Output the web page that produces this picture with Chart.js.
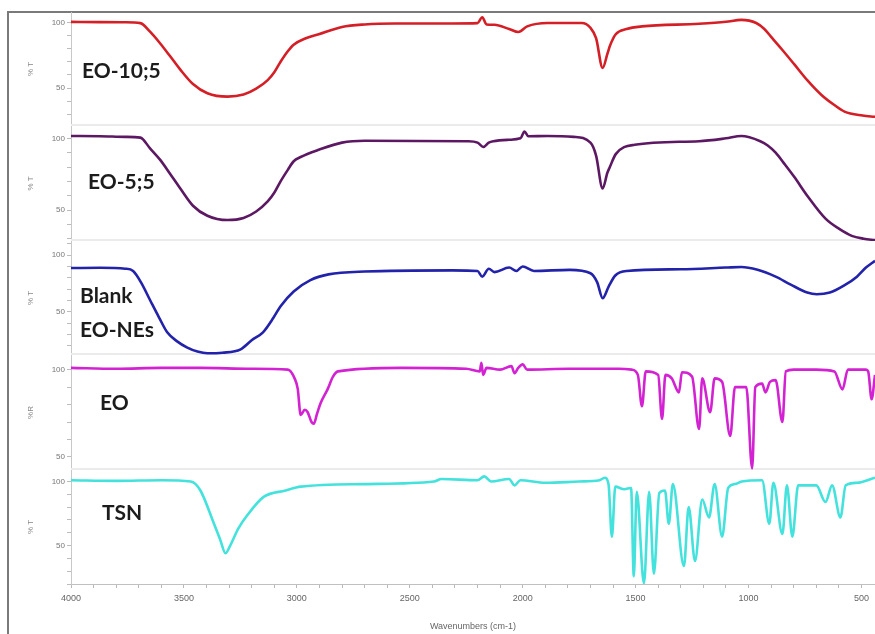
<!DOCTYPE html>
<html>
<head>
<meta charset="utf-8">
<script src="https://cdn.jsdelivr.net/npm/chart.js@4.4.0/dist/chart.umd.min.js"></script>
<style>
  body { margin: 0; background: #fff; }
  #page { position: relative; width: 875px; height: 634px; overflow: hidden; background: #fff; }
  #frame { position: absolute; left: 7px; top: 11px; width: 900px; height: 700px;
           border-left: 2px solid #7a7a7a; border-top: 2px solid #7a7a7a; }
  canvas { position: absolute; left: 0; }
  .tag { position: absolute; font-family: Lato, "Open Sans", sans-serif; font-weight: 700;
         font-size: 21px; line-height: 1; color: #1c1c1c; white-space: nowrap; }
</style>
</head>
<body>
<div id="page">
  <div id="frame"></div>
  <canvas id="p1"></canvas>
  <canvas id="p2"></canvas>
  <canvas id="p3"></canvas>
  <canvas id="p4"></canvas>
  <canvas id="p5"></canvas>
  <div class="tag" style="left:82px;top:59px">EO-10;5</div>
  <div class="tag" style="left:88px;top:170px">EO-5;5</div>
  <div class="tag" style="left:80px;top:284px">Blank</div>
  <div class="tag" style="left:80px;top:318px">EO-NEs</div>
  <div class="tag" style="left:100px;top:391px">EO</div>
  <div class="tag" style="left:102px;top:501px">TSN</div>
</div>
<script>
// tick labels
const xTickLabels = [4000, 3500, 3000, 2500, 2000, 1500, 1000, 500];
const yTickLabels = [50, 100];

// EO-10;5 (wavenumber cm-1, %T)
const wnEO105 = [4000,3871,3760,3693,3650,3605,3560,3516,3460,3396,3307,3236,3180,3129,3100,3072,3040,3014,2960,2903,2800,
  2700,2565,2312,2200,2179,2160,2125,2060,2019,1980,1890,1739,1700,1675,1646,1625,1614,1588,1540,1472,
  1219,1100,1032,966,930,895,850,797,740,677,620,575,495,440];
const tEO105 = [100.5,100.3,100.2,99.5,93,84,74,64,53,46,43.4,45,49.5,56,62,70,78,83,88,91,96.6,
  98.5,99.2,99.2,99.5,104,98.5,98.3,95,92.7,97,99.6,99.6,96,88,65.3,76,82,91,95,97,
  99,100.5,102,99.6,95,88,79,68,56,44.7,37,32,29,28];

// EO-5;5
const wnEO55 = [4000,3871,3760,3693,3650,3605,3560,3516,3460,3396,3307,3236,3180,3129,3100,3072,3040,3014,2983,2903,2800,
  2700,2241,2200,2174,2150,2130,2060,2010,1992,1975,1890,1774,1700,1675,1646,1625,1614,1588,1504,1219,
  1100,1032,948,915,880,840,797,740,659,600,543,490,440];
const tEO55 = [101.6,101.5,101,100.5,93,85,75,65,53,46,43,44.5,49,56,62,70,78,84,87,92,97,
  98.3,98,97,94,97,98,99,100,104.8,101.5,101.6,101,97,88,65,76,80,89,95.5,98,
  100,101.6,98,95,90,82,73,60,44,37,32,30,29];

// Blank EO-NEs
const wnBlank = [4000,3871,3760,3725,3690,3649,3610,3574,3530,3485,3440,3396,3330,3249,3200,3150,3103,3072,3014,2940,
  2860,2700,2312,2200,2179,2150,2125,2060,2028,2000,1950,1792,1700,1670,1646,1620,1590,1540,1300,1100,
  1032,960,880,813,740,698,640,578,520,480,440];
const tBlank = [88.6,88.8,88,86,76,60,45,32,24,18.5,15,13.5,14,17,25,32,45,55,68,78,
  83,85.5,86.5,86,81,88,85,89,86,90,86,87,84,76,62,72,82,86,87.5,89,
  89.5,87,81,74,67,65.5,67,73,81,89,95];

// EO
const wnEO = [4000,3800,3600,3427,3200,3040,3010,2996,2983,2965,2952,2935,2925,2910,2894,2863,2840,2818,2538,2250,
  2190,2183,2175,2160,2100,2050,2036,2020,2000,1980,1796,1574,1517,1490,1472,1455,1400,1383,1368,1340,
  1308,1295,1250,1219,1205,1170,1150,1117,1081,1060,1010,984,970,940,925,905,880,850,835,800,
  700,620,584,560,480,470,455,440];
const tEO = [101,100.5,101,101,100.5,100,95,89,74,77,75.6,70,69,75,81,89,96,99,101,100.5,
  99,104,97,101,100,102,98,101,103,100,100.5,100.5,100,97,79,99,97,71.7,97,95,
  87,98.5,96,66,95,75.6,95,93,62,90,90,43.4,90,92,87,93,94,70,99,100,
  100,99,88.7,100,100,99,83,97];

// TSN
const wnTSN = [4000,3800,3600,3470,3427,3369,3340,3316,3295,3260,3218,3147,3050,2983,2700,2392,2360,2200,2170,2140,
  2060,2036,2010,1900,1750,1660,1637,1620,1605,1590,1550,1520,1508,1495,1463,1440,1419,1395,1370,1353,
  1335,1286,1265,1237,1205,1175,1150,1117,1090,1060,1030,940,908,890,850,830,806,780,700,659,
  630,593,570,520,440];
const tTSN = [101,100.5,101,100,93,68,55,44,50,63,74,88,93,96,98,100,102,101,104,100,
  102,97,101,99,100,101,103,98,57,96,94,95,26,92,20.5,92,28,91,93,67,
  98,34,80,38,86,72,98,57,95,98,100,101,67,99,59,97,57,97,97,84,
  97,72,97,99,103];

function pairs(wn, t) {
  return wn.map((w, i) => ({ x: w, y: t[i] }));
}

// faint line between stacked panels
const separator = {
  id: 'separator',
  beforeDatasetsDraw(chart, args, opts) {
    if (!opts.show) return;
    const { ctx, chartArea } = chart;
    ctx.save();
    ctx.strokeStyle = '#ebebeb';
    ctx.lineWidth = 2;
    ctx.beginPath();
    ctx.moveTo(chartArea.left, chartArea.bottom - 1);
    ctx.lineTo(chartArea.right, chartArea.bottom - 1);
    ctx.stroke();
    ctx.restore();
  }
};

const panels = [
  { id: 'p1', top: 12,  height: 114, data: pairs(wnEO105, tEO105), color: '#d41f26', min: 21,   max: 108,   title: '% T' },
  { id: 'p2', top: 126, height: 115, data: pairs(wnEO55, tEO55),   color: '#5c1862', min: 28.4, max: 108.6, title: '% T' },
  { id: 'p3', top: 241, height: 114, data: pairs(wnBlank, tBlank), color: '#2222aa', min: 12,   max: 112.4, title: '% T' },
  { id: 'p4', top: 355, height: 115, data: pairs(wnEO, tEO),       color: '#d222d2', min: 42.5, max: 108.4, title: '%R' },
  { id: 'p5', top: 470, height: 164, data: pairs(wnTSN, tTSN),     color: '#43e2dc', min: 20,   max: 109,   title: '% T', bottom: true }
];

Chart.defaults.font.family = '"Liberation Sans", Arial, sans-serif';

panels.forEach(p => {
  const canvas = document.getElementById(p.id);
  canvas.width = 875;
  canvas.height = p.height;
  canvas.style.top = p.top + 'px';
  canvas.style.width = '875px';
  canvas.style.height = p.height + 'px';

  new Chart(canvas, {
    type: 'line',
    data: {
      datasets: [{
        data: p.data,
        borderColor: p.color,
        borderWidth: 2.6,
        pointRadius: 0,
        cubicInterpolationMode: 'monotone',
        fill: false
      }]
    },
    options: {
      responsive: false,
      animation: false,
      layout: { padding: 0 },
      scales: {
        x: {
          type: 'linear',
          reverse: true,
          min: 440,
          max: 4000,
          display: !!p.bottom,
          ticks: {
            stepSize: 100,
            includeBounds: false,
            autoSkip: false,
            maxTicksLimit: 1000,
            maxRotation: 0,
            padding: 5,
            color: '#666',
            font: { size: 9 },
            callback: v => xTickLabels.includes(v) ? String(v) : ''
          },
          grid: { drawOnChartArea: false, tickLength: 4, color: '#b8b8b8' },
          border: { color: '#c0c0c0' },
          title: { display: true, text: 'Wavenumbers (cm-1)', color: '#666', font: { size: 9 }, padding: { bottom: 2 } },
          afterFit(s) {
            s.paddingLeft = 0;
            s.paddingRight = 0;
            s.height = p.bottom ? 50 : 0;
          }
        },
        y: {
          min: p.min,
          max: p.max,
          ticks: {
            stepSize: 10,
            includeBounds: false,
            autoSkip: false,
            padding: 2,
            color: '#777',
            font: { size: 8 },
            callback: v => yTickLabels.includes(v) ? String(v) : ''
          },
          grid: { drawOnChartArea: false, tickLength: 4, color: '#bcbcbc' },
          border: { color: '#c8c8c8' },
          title: { display: true, text: p.title, color: '#888', font: { size: 8 }, padding: { top: 26 } },
          afterFit(s) { s.width = 71; s.paddingTop = 0; s.paddingBottom = 0; }
        }
      },
      plugins: {
        legend: { display: false },
        tooltip: { enabled: false },
        separator: { show: !p.bottom }
      }
    },
    plugins: [separator]
  });
});
</script>
</body>
</html>
